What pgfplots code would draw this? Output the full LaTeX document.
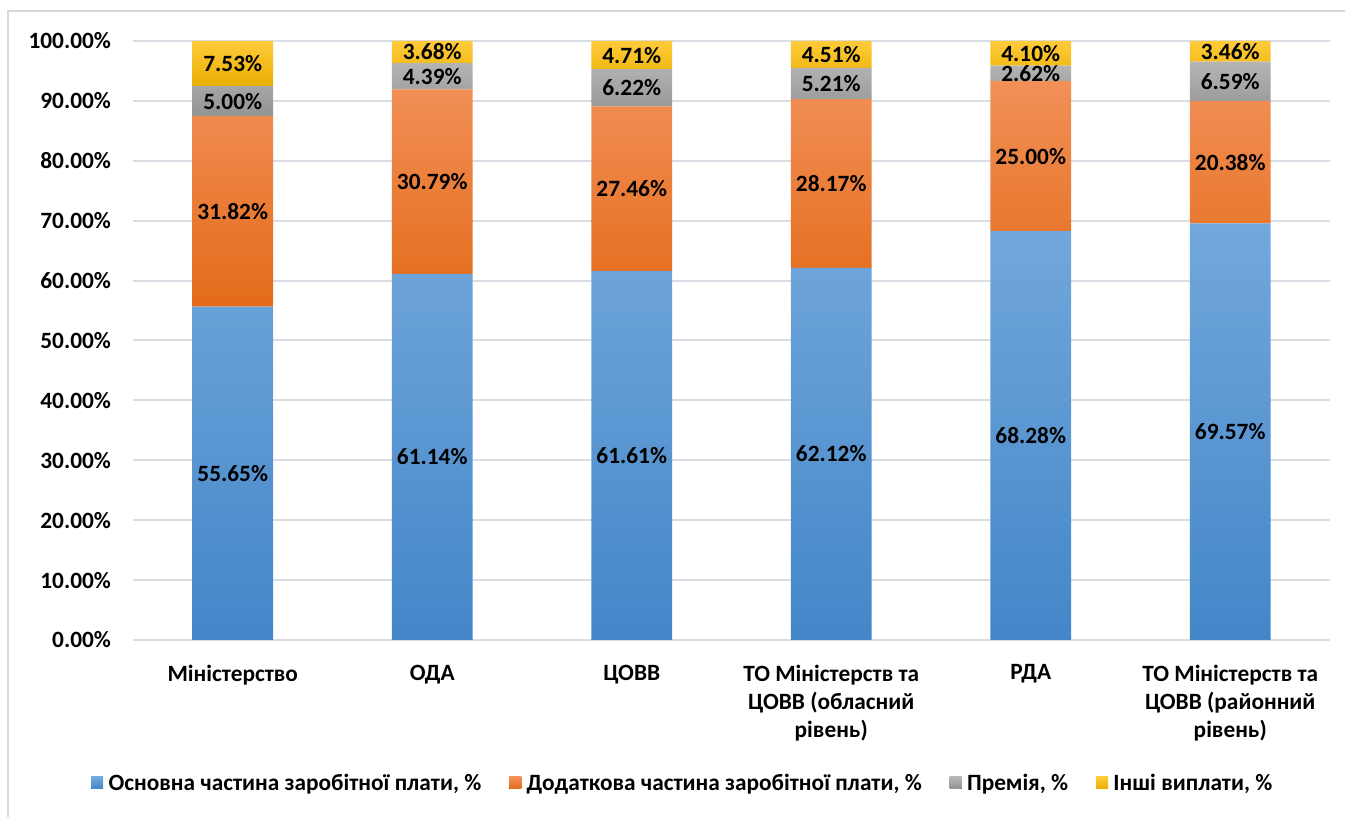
\documentclass[border=0pt]{standalone}
\usepackage{pgfplots}
\pgfplotsset{compat=1.18}
\usepackage{pgfplotstable}
\usepackage{fontspec}
\setmainfont{Carlito}

\definecolor{bluetop}{HTML}{72A8DC}
\definecolor{bluebot}{HTML}{4386C8}
\definecolor{orgtop}{HTML}{F29058}
\definecolor{orgbot}{HTML}{E36B19}
\definecolor{graytop}{HTML}{B5B5B5}
\definecolor{graybot}{HTML}{939393}
\definecolor{yeltop}{HTML}{FFCB3A}
\definecolor{yelbot}{HTML}{E8AF00}
\definecolor{gridc}{HTML}{D9DDE4}
\definecolor{framec}{HTML}{D9D9D9}

% shares, %
\pgfplotstableread{
x  osn    dod    prem  inshi
0  55.65  31.82  5.00  7.53
1  61.14  30.79  4.39  3.68
2  61.61  27.46  6.22  4.71
3  62.12  28.17  5.21  4.51
4  68.28  25.00  2.62  4.10
5  69.57  20.38  6.59  3.46
}\shares

\newcommand{\lblfont}{\fontsize{17.5}{21}\selectfont\bfseries}

\begin{document}
\begin{tikzpicture}
\path[use as bounding box] (0,0) rectangle (1008.75pt,612.75pt);
\draw[framec, line width=1pt] (6pt,0) -- (6pt,604.5pt) -- (1010pt,604.5pt);
\begin{axis}[
  at={(99.75pt,132.75pt)}, anchor=south west,
  scale only axis,
  width=897.75pt, height=449.25pt,
  ybar stacked,
  bar width=0.405,
  xmin=-0.5, xmax=5.5,
  ymin=0, ymax=100,
  xtick=data,
  xticklabels={Міністерство, ОДА, ЦОВВ,
    {ТО Міністерств та\\ЦОВВ (обласний\\рівень)}, РДА,
    {ТО Міністерств та\\ЦОВВ (районний\\рівень)}},
  ytick={0,10,...,100},
  yticklabel={\pgfmathprintnumber[fixed,fixed zerofill,precision=2]{\tick}\%},
  /pgf/number format/assume math mode=true,
  ticklabel style={font=\lblfont, text=black},
  xticklabel style={align=center, anchor=north, yshift=-15pt},
  yticklabel style={anchor=east, xshift=-13pt},
  major tick length=0pt,
  axis line style={draw=none},
  ymajorgrids=true,
  grid style={gridc, line width=1.5pt},
  clip=false,
  point meta=rawy,
  nodes near coords={\pgfmathprintnumber[fixed,fixed zerofill,precision=2]{\pgfplotspointmeta}\%},
  every node near coord/.append style={font=\lblfont, text=black, anchor=center},
  legend columns=4,
  legend style={at={(0.459,-0.2387)}, anchor=center, draw=none, fill=none,
    font=\lblfont, column sep=0pt,
    /tikz/every even column/.append style={column sep=18pt}},
  legend image code/.code={\path (-1pt,0) -- (11pt,0);
    \fill[#1] (0pt,-4.5pt) rectangle (9pt,4.5pt);},
  legend cell align=left,
]
\addplot[draw=none, top color=bluetop, bottom color=bluebot] table[x=x, y=osn] {\shares};
\addlegendentry{Основна частина заробітної плати, \%}
\addplot[draw=none, top color=orgtop, bottom color=orgbot] table[x=x, y=dod] {\shares};
\addlegendentry{Додаткова частина заробітної плати, \%}
\addplot[draw=none, top color=graytop, bottom color=graybot] table[x=x, y=prem] {\shares};
\addlegendentry{Премія, \%}
\addplot[draw=none, top color=yeltop, bottom color=yelbot] table[x=x, y=inshi] {\shares};
\addlegendentry{Інші виплати, \%}
\end{axis}
\end{tikzpicture}
\end{document}
